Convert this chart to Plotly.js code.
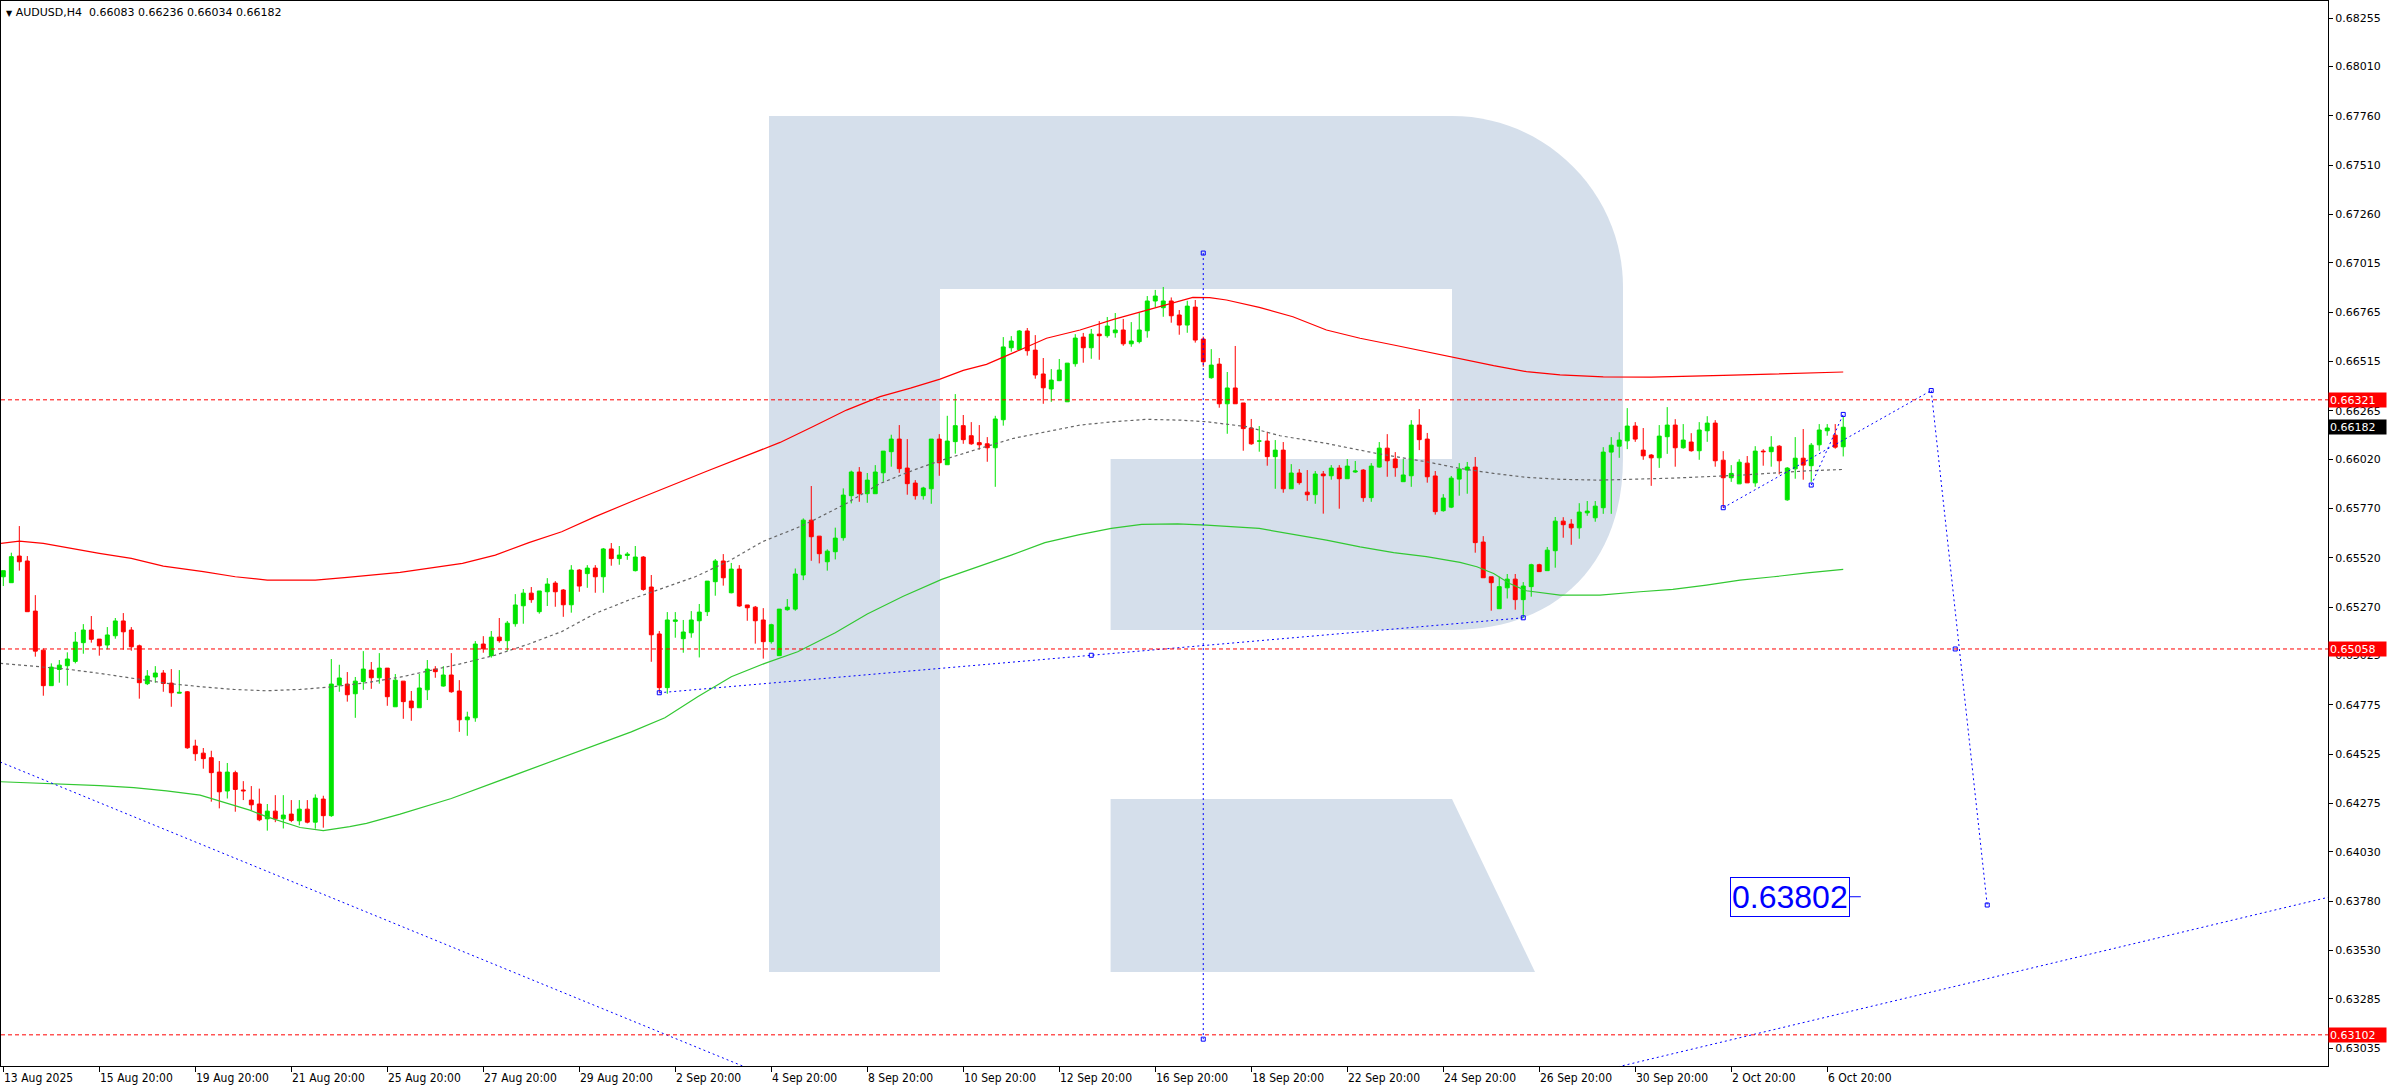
<!DOCTYPE html>
<html><head><meta charset="utf-8">
<script src="https://cdn.plot.ly/plotly-3.0.1.min.js"></script>
<style>html,body{margin:0;padding:0;background:#fff;overflow:hidden}#chart{width:2392px;height:1090px}</style>
</head><body><div id="chart"></div>
<script>
// ---------------- DATA ----------------
const symbolTitle = 'AUDUSD,H4';
const lastBarOHLC = [0.66083, 0.66236, 0.66034, 0.66182];

const open = [0.65424,0.65394,0.65529,0.65504,0.65250,0.65052,0.64872,0.64954,0.64973,0.64995,
0.65090,0.65154,0.65108,0.65078,0.65125,0.65200,0.65154,0.65074,0.64882,0.64916,
0.64936,0.64885,0.64834,0.64841,0.64566,0.64530,0.64507,0.64434,0.64338,0.64431,
0.64343,0.64292,0.64272,0.64197,0.64236,0.64197,0.64221,0.64187,0.64246,0.64180,
0.64297,0.64213,0.64875,0.64880,0.64831,0.64893,0.64951,0.64912,0.64961,0.64765,
0.64895,0.64794,0.64760,0.64851,0.64956,0.64870,0.64926,0.64845,0.64699,0.64709,
0.65083,0.65024,0.65118,0.65100,0.65186,0.65277,0.65341,0.65247,0.65348,0.65392,
0.65357,0.65282,0.65458,0.65440,0.65468,0.65424,0.65565,0.65516,0.65532,0.65455,
0.65524,0.65372,0.65134,0.64862,0.65198,0.65110,0.65140,0.65201,0.65247,0.65399,
0.65504,0.65343,0.65463,0.65281,0.65270,0.65205,0.65095,0.65024,0.65257,0.65260,
0.65433,0.65711,0.65630,0.65500,0.65551,0.65622,0.65835,0.65955,0.65845,0.65845,
0.65951,0.66058,0.66122,0.65975,0.65899,0.65835,0.65870,0.66122,0.65992,0.66109,
0.66190,0.66139,0.66104,0.66098,0.66078,0.66220,0.66585,0.66575,0.66670,0.66573,
0.66452,0.66376,0.66418,0.66311,0.66504,0.66639,0.66585,0.66654,0.66646,0.66661,
0.66675,0.66605,0.66616,0.66671,0.66822,0.66788,0.66822,0.66751,0.66700,0.66791,
0.66629,0.66433,0.66502,0.66301,0.66381,0.66305,0.66178,0.66112,0.66112,0.66033,
0.66066,0.65870,0.65950,0.65853,0.65840,0.65945,0.65936,0.65975,0.65921,0.65955,
0.65965,0.65825,0.65980,0.66076,0.66021,0.65906,0.65936,0.66193,0.66122,0.65935,
0.65759,0.65777,0.65919,0.65965,0.65980,0.65600,0.65424,0.65262,0.65368,0.65412,
0.65308,0.65374,0.65485,0.65455,0.65556,0.65706,0.65691,0.65672,0.65748,0.65723,
0.65774,0.66056,0.66086,0.66113,0.66188,0.66066,0.66041,0.66027,0.66134,0.66193,
0.66078,0.66107,0.66063,0.66164,0.66203,0.66015,0.65926,0.65895,0.66000,0.65900,
0.66061,0.66058,0.66086,0.65814,0.65971,0.66025,0.65987,0.66093,0.66164,0.66142,
0.66083];

const high = [0.65455,0.65546,0.65681,0.65529,0.65331,0.65061,0.64985,0.65002,0.65041,0.65144,
0.65184,0.65225,0.65108,0.65169,0.65215,0.65240,0.65169,0.65080,0.64951,0.64971,
0.64951,0.64956,0.64951,0.64845,0.64598,0.64556,0.64542,0.64490,0.64480,0.64441,
0.64388,0.64363,0.64350,0.64272,0.64317,0.64317,0.64292,0.64292,0.64292,0.64321,
0.64314,0.65007,0.64978,0.64941,0.64916,0.65047,0.64992,0.65037,0.64961,0.64931,
0.64895,0.64845,0.64931,0.65002,0.64971,0.64971,0.65037,0.64900,0.64740,0.65098,
0.65123,0.65149,0.65215,0.65200,0.65336,0.65362,0.65372,0.65352,0.65417,0.65402,
0.65362,0.65483,0.65463,0.65483,0.65483,0.65570,0.65595,0.65580,0.65549,0.65580,
0.65529,0.65433,0.65149,0.65245,0.65245,0.65205,0.65250,0.65286,0.65402,0.65514,
0.65539,0.65494,0.65483,0.65281,0.65276,0.65265,0.65186,0.65260,0.65311,0.65466,
0.65720,0.65884,0.65630,0.65563,0.65673,0.65872,0.65962,0.65980,0.65950,0.65990,
0.66061,0.66144,0.66193,0.66122,0.65914,0.65880,0.66122,0.66147,0.66240,0.66350,
0.66244,0.66208,0.66193,0.66132,0.66240,0.66639,0.66644,0.66675,0.66685,0.66649,
0.66533,0.66477,0.66528,0.66507,0.66654,0.66660,0.66680,0.66720,0.66741,0.66761,
0.66731,0.66715,0.66761,0.66847,0.66878,0.66893,0.66840,0.66776,0.66823,0.66827,
0.66641,0.66578,0.66533,0.66462,0.66594,0.66305,0.66224,0.66188,0.66159,0.66117,
0.66107,0.65995,0.65970,0.65965,0.65960,0.65960,0.65990,0.65990,0.66021,0.66011,
0.65970,0.66000,0.66107,0.66147,0.66056,0.66021,0.66218,0.66274,0.66153,0.65960,
0.65843,0.65935,0.66000,0.66006,0.66031,0.65630,0.65424,0.65424,0.65438,0.65438,
0.65397,0.65490,0.65490,0.65575,0.65727,0.65726,0.65716,0.65797,0.65808,0.65808,
0.66081,0.66132,0.66157,0.66279,0.66208,0.66178,0.66046,0.66193,0.66284,0.66223,
0.66198,0.66152,0.66208,0.66238,0.66218,0.66061,0.65990,0.66020,0.66036,0.66086,
0.66071,0.66137,0.66091,0.65980,0.66132,0.66173,0.66102,0.66198,0.66198,0.66198,
0.66236];

const low = [0.65377,0.65394,0.65455,0.65247,0.65019,0.64821,0.64872,0.64887,0.64872,0.64985,
0.65034,0.65090,0.65024,0.65056,0.65110,0.65054,0.65049,0.64806,0.64875,0.64887,
0.64841,0.64765,0.64833,0.64552,0.64491,0.64451,0.64284,0.64250,0.64300,0.64233,
0.64292,0.64241,0.64185,0.64137,0.64180,0.64148,0.64180,0.64164,0.64174,0.64147,
0.64152,0.64207,0.64841,0.64791,0.64709,0.64851,0.64856,0.64882,0.64770,0.64765,
0.64704,0.64694,0.64760,0.64799,0.64912,0.64867,0.64836,0.64638,0.64618,0.64689,
0.65039,0.65014,0.65090,0.65049,0.65171,0.65186,0.65292,0.65237,0.65276,0.65272,
0.65221,0.65242,0.65348,0.65368,0.65343,0.65343,0.65480,0.65485,0.65510,0.65451,
0.65353,0.64993,0.64836,0.64831,0.65115,0.65039,0.65115,0.65015,0.65225,0.65328,
0.65379,0.65340,0.65272,0.65201,0.65085,0.65009,0.65085,0.65024,0.65252,0.65252,
0.65407,0.65505,0.65492,0.65455,0.65512,0.65607,0.65796,0.65804,0.65799,0.65845,
0.65906,0.65982,0.65951,0.65840,0.65815,0.65815,0.65794,0.65936,0.65992,0.66048,
0.66098,0.66093,0.66068,0.66007,0.65880,0.66190,0.66565,0.66573,0.66545,0.66428,
0.66301,0.66311,0.66416,0.66311,0.66489,0.66509,0.66529,0.66524,0.66636,0.66636,
0.66595,0.66590,0.66607,0.66636,0.66790,0.66742,0.66712,0.66651,0.66661,0.66611,
0.66489,0.66428,0.66281,0.66149,0.66301,0.66063,0.66093,0.66058,0.65987,0.65870,
0.65850,0.65870,0.65891,0.65809,0.65794,0.65744,0.65916,0.65769,0.65921,0.65951,
0.65804,0.65804,0.65977,0.65931,0.65931,0.65906,0.65880,0.66066,0.65901,0.65739,
0.65754,0.65772,0.65835,0.65845,0.65546,0.65419,0.65252,0.65262,0.65314,0.65257,
0.65216,0.65323,0.65450,0.65455,0.65470,0.65622,0.65586,0.65617,0.65733,0.65703,
0.65743,0.65743,0.66027,0.66071,0.66108,0.66017,0.65885,0.65976,0.66047,0.65982,
0.66073,0.66058,0.66017,0.66108,0.65982,0.65774,0.65905,0.65895,0.65900,0.65880,
0.65987,0.65982,0.65943,0.65809,0.65921,0.65916,0.65905,0.66063,0.66139,0.66073,
0.66034];

const close = [0.65455,0.65526,0.65500,0.65247,0.65047,0.64872,0.64966,0.64976,0.65007,0.65093,
0.65154,0.65107,0.65074,0.65129,0.65200,0.65145,0.65069,0.64887,0.64921,0.64936,
0.64883,0.64836,0.64838,0.64557,0.64527,0.64502,0.64431,0.64334,0.64434,0.64346,
0.64339,0.64268,0.64192,0.64236,0.64197,0.64216,0.64189,0.64246,0.64180,0.64302,
0.64213,0.64880,0.64911,0.64826,0.64895,0.64956,0.64912,0.64961,0.64816,0.64900,
0.64791,0.64760,0.64860,0.64956,0.64943,0.64926,0.64841,0.64699,0.64713,0.65083,
0.65059,0.65118,0.65100,0.65189,0.65281,0.65341,0.65308,0.65352,0.65387,0.65348,
0.65282,0.65458,0.65377,0.65468,0.65424,0.65565,0.65516,0.65534,0.65539,0.65524,
0.65360,0.65130,0.64862,0.65205,0.65205,0.65144,0.65205,0.65245,0.65402,0.65504,
0.65419,0.65463,0.65276,0.65267,0.65201,0.65095,0.65181,0.65260,0.65270,0.65438,
0.65711,0.65627,0.65541,0.65554,0.65620,0.65838,0.65955,0.65845,0.65914,0.65955,
0.66061,0.66122,0.65972,0.65896,0.65835,0.65874,0.66122,0.66002,0.66112,0.66190,
0.66119,0.66098,0.66093,0.66078,0.66224,0.66589,0.66619,0.66670,0.66570,0.66447,
0.66382,0.66421,0.66472,0.66507,0.66634,0.66585,0.66654,0.66646,0.66695,0.66675,
0.66605,0.66619,0.66675,0.66822,0.66847,0.66822,0.66747,0.66700,0.66796,0.66624,
0.66514,0.66497,0.66301,0.66381,0.66301,0.66175,0.66098,0.66112,0.66033,0.66066,
0.65870,0.65950,0.65901,0.65840,0.65945,0.65936,0.65975,0.65921,0.65985,0.65960,
0.65825,0.65985,0.66076,0.66012,0.65977,0.65940,0.66193,0.66119,0.65931,0.65754,
0.65823,0.65924,0.65970,0.65980,0.65597,0.65419,0.65394,0.65374,0.65412,0.65308,
0.65377,0.65485,0.65450,0.65559,0.65706,0.65688,0.65672,0.65752,0.65757,0.65782,
0.66056,0.66091,0.66117,0.66188,0.66122,0.66037,0.66027,0.66137,0.66193,0.66078,
0.66117,0.66063,0.66168,0.66203,0.66012,0.65926,0.65948,0.66005,0.65900,0.66061,
0.66058,0.66081,0.66012,0.65975,0.66025,0.65990,0.66091,0.66168,0.66178,0.66081,
0.66182];

// Bar positions (H4 bar number, weekends skipped)
const barIndex = open.map((_, i) => i);

// Time-axis labels (every 12 bars)
const xTickIdx  = [0,12,24,36,48,60,72,84,96,108,120,132,144,156,168,180,192,204,216,228];
const xTickText = ['13 Aug 2025','15 Aug 20:00','19 Aug 20:00','21 Aug 20:00','25 Aug 20:00','27 Aug 20:00',
  '29 Aug 20:00','2 Sep 20:00','4 Sep 20:00','8 Sep 20:00','10 Sep 20:00','12 Sep 20:00','16 Sep 20:00',
  '18 Sep 20:00','22 Sep 20:00','24 Sep 20:00','26 Sep 20:00','30 Sep 20:00','2 Oct 20:00','6 Oct 20:00'];

// Price-axis labels
const yTickVals = [0.68255,0.68010,0.67760,0.67510,0.67260,0.67015,0.66765,0.66515,0.66265,0.66020,0.65770,
  0.65520,0.65270,0.65025,0.64775,0.64525,0.64275,0.64030,0.63780,0.63530,0.63285,0.63035];

// Moving averages (sampled along the curve)
const maRedIdx = [-0.4,2,5,8,12,16,20,25,29,33,39,43,49.6,57.4,61.5,65.7,69.8,74,79,88,97.1,101.3,105.4,109.6,113.4,117.1,120,122.9,125.4,128,130.4,134.6,138.8,142.9,146.8,148.7,150.8,152.9,157,161.2,165.4,169.6,173.8,177.9,182.1,186.3,190.4,194.6,200,206,215,222,230];
const maRedVal = [0.65593,0.65605,0.65593,0.65571,0.65543,0.65517,0.65478,0.65450,0.65424,0.65407,0.65407,0.65421,0.65446,0.65492,0.65534,0.65597,0.65652,0.65729,0.65813,0.65960,0.66105,0.66187,0.66269,0.66337,0.66380,0.66426,0.66470,0.66501,0.66543,0.66590,0.66633,0.66675,0.66729,0.66776,0.66822,0.66840,0.66839,0.66827,0.66790,0.66742,0.66675,0.66633,0.66599,0.66565,0.66531,0.66494,0.66464,0.66447,0.66437,0.66436,0.66445,0.66452,0.66462];

const maGreenIdx = [-0.4,5.8,12.1,16.3,20.4,24.6,26.7,28.8,30.8,32.9,37.1,40,43.3,45.4,49.6,56,62,69.3,74.3,78.5,82.7,86.8,91,95.2,99.3,104,108,112.5,117.3,121.9,126,130.2,134.4,138.5,142.3,146.8,150.4,157,165.4,169.6,173.8,177.9,182.1,184.2,186.3,188.3,190.4,194.6,199.6,204.6,208.7,212.9,217.1,221.3,225.5,230];
const maGreenVal = [0.64385,0.64376,0.64365,0.64355,0.64339,0.64317,0.64292,0.64267,0.64241,0.64208,0.64153,0.64137,0.64157,0.64174,0.64221,0.64300,0.64390,0.64498,0.64576,0.64638,0.64709,0.64816,0.64917,0.64985,0.65044,0.65140,0.65235,0.65325,0.65411,0.65475,0.65534,0.65597,0.65636,0.65669,0.65690,0.65692,0.65686,0.65669,0.65610,0.65576,0.65546,0.65526,0.65497,0.65475,0.65441,0.65390,0.65353,0.65331,0.65331,0.65348,0.65360,0.65382,0.65407,0.65424,0.65444,0.65461];

const maGrayIdx = [-0.4,4.6,7.9,12.1,16.3,20.4,24.6,28.8,32.9,37.1,41.3,45.4,49.6,57.4,61.5,65.7,69.8,74,78.2,82.4,86.5,90.7,94.9,99.1,101.3,105.4,109.6,113.8,117.1,122.1,126.3,130.4,134.6,138.8,142.9,147.1,150.4,155.4,159.6,165.4,171.7,177.9,182.1,186.3,190.4,194.6,199.6,208.7,217.1,225.5,230];
const maGrayVal = [0.64985,0.64968,0.64956,0.64934,0.64909,0.64884,0.64867,0.64853,0.64846,0.64853,0.64867,0.64887,0.64915,0.64985,0.65027,0.65083,0.65146,0.65238,0.65306,0.65365,0.65424,0.65504,0.65602,0.65670,0.65711,0.65796,0.65897,0.65965,0.66012,0.66075,0.66126,0.66159,0.66193,0.66210,0.66222,0.66218,0.66210,0.66185,0.66139,0.66100,0.66049,0.66007,0.65973,0.65948,0.65928,0.65918,0.65914,0.65924,0.65939,0.65961,0.65968];

// Drawn objects: trend lines (bar index, price)
const trendDownIdx = [-0.4, 95];      const trendDownVal = [0.64485, 0.62901];
const trendLowIdx  = [82, 190];       const trendLowVal  = [0.64836, 0.65216];
const vLineIdx     = [150, 150];      const vLineVal     = [0.67065, 0.63080];
const fcUpIdx      = [215, 241];      const fcUpVal      = [0.65774, 0.66368];
const fcDownIdx    = [241, 248];      const fcDownVal    = [0.66368, 0.63760];
const shortUpIdx   = [226, 230];      const shortUpVal   = [0.65889, 0.66247];
const trendBotIdx  = [200, 290.6];    const trendBotVal  = [0.62922, 0.63799];
const anchorIdx = [82, 136, 190, 215, 241, 248, 226, 230, 150, 150, 244];
const anchorVal = [0.64836, 0.65026, 0.65216, 0.65774, 0.66368, 0.63760, 0.65889, 0.66247, 0.67065, 0.63080, 0.65058];

// Horizontal levels
const levelVals  = [0.66321, 0.65058, 0.63102];
const targetText = '0.63802';
const targetVal  = 0.63802;

// ---------------- RENDER ----------------
const FONT = 'DejaVu Sans, Verdana, sans-serif';
const FONT_C = 'DejaVu Sans Condensed, Liberation Sans Narrow, DejaVu Sans, sans-serif';
const BLUE = '#0000ff';
const W = 2327, H = 1065, ML = 1, MT = 1;
const px = x => ((x - ML) / W).toFixed(5);
const py = y => ((MT + H - y) / H).toFixed(5);
const LOGO = 'rgb(213,223,235)';

function rectShape(x0, y0, x1, y1) {
  return {type:'rect', xref:'paper', yref:'paper', x0:px(x0), x1:px(x1), y0:py(y1), y1:py(y0),
          fillcolor:LOGO, line:{width:0}, layer:'below'};
}
function pathShape(pts) {
  return {type:'path', xref:'paper', yref:'paper', path:pts, fillcolor:LOGO, line:{width:0}, layer:'below'};
}
const P = (x, y) => px(x) + ',' + py(y);

const shapes = [
  rectShape(769, 116, 940, 972),
  rectShape(939, 116, 1453, 289),
  pathShape('M' + P(1452,116) + ' C' + P(1546,116) + ' ' + P(1623,193) + ' ' + P(1623,287) +
            ' L' + P(1623,459) + ' C' + P(1623,560) + ' ' + P(1560,630) + ' ' + P(1452,630) + ' Z'),
  rectShape(1110.6, 459, 1453, 630),
  pathShape('M' + P(1110.6,799) + ' L' + P(1452,799) + ' L' + P(1535,972) + ' L' + P(1110.6,972) + ' Z')
];
levelVals.forEach(v => shapes.push({type:'line', xref:'paper', yref:'y', x0:0, x1:1, y0:v, y1:v,
  line:{color:'#ff0000', width:1, dash:'4px,3px'}, layer:'above'}));

const lineTrace = (x, y, color, dash, width) => ({type:'scatter', mode:'lines', x, y, hoverinfo:'skip',
  line:{color, width: width || 1, dash: dash || 'solid'}, showlegend:false, cliponaxis:true});

const traces = [
  {type:'candlestick', x:barIndex, open, high, low, close, hoverinfo:'skip', whiskerwidth:0,
   increasing:{line:{color:'#00e400', width:1}, fillcolor:'#00e400'},
   decreasing:{line:{color:'#ff0000', width:1}, fillcolor:'#ff0000'}, showlegend:false},
  lineTrace(maRedIdx, maRedVal, '#ff0000', 'solid', 1.2),
  lineTrace(maGreenIdx, maGreenVal, '#32c832', 'solid', 1.2),
  lineTrace(maGrayIdx, maGrayVal, '#666666', '3px,3px', 1.2),
  lineTrace(trendDownIdx, trendDownVal, BLUE, '2px,3px'),
  lineTrace(trendLowIdx, trendLowVal, BLUE, '2px,3px'),
  lineTrace(vLineIdx, vLineVal, BLUE, '2px,3px'),
  lineTrace(fcUpIdx, fcUpVal, BLUE, '2px,3px'),
  lineTrace(fcDownIdx, fcDownVal, BLUE, '2px,3px'),
  lineTrace(shortUpIdx, shortUpVal, BLUE, '2px,3px'),
  lineTrace(trendBotIdx, trendBotVal, BLUE, '2px,3px'),
  lineTrace([230.8, 232.2], [targetVal, targetVal], BLUE, 'solid'),
  {type:'scatter', mode:'markers', x:anchorIdx, y:anchorVal, hoverinfo:'skip', showlegend:false,
   marker:{symbol:'square-open', size:4, color:BLUE, line:{width:1, color:BLUE}}}
];

const annotations = [];
xTickIdx.forEach((xi, k) => annotations.push({x:xi, xref:'x', y:0, yref:'paper', yanchor:'top', xanchor:'left',
  xshift:-1, yshift:-3, text:xTickText[k], showarrow:false, font:{family:FONT_C, size:12, color:'#000'}}));

annotations.push({x:0, xref:'paper', y:1, yref:'paper', xanchor:'left', yanchor:'top', xshift:3, yshift:-3,
  showarrow:false, align:'left', font:{family:FONT, size:11, color:'#000'},
  text:'<span style="font-size:8px">\u25BC</span> ' + symbolTitle + '\u00a0\u00a0' + lastBarOHLC.map(v => v.toFixed(5)).join(' ')});

const tag = (v, bg) => ({x:1, xref:'paper', y:v, yref:'y', xanchor:'left', yanchor:'middle', xshift:0,
  text:v.toFixed(5), showarrow:false, bgcolor:bg, borderpad:1, width:55, height:12, align:'left',
  font:{family:FONT, size:11, color:'#fff'}});
levelVals.forEach(v => annotations.push(tag(v, '#ff0000')));
annotations.push(tag(close[close.length - 1], '#000000'));

annotations.push({x:230.8, xref:'x', y:targetVal, yref:'y', xanchor:'right', yanchor:'middle', text:targetText,
  showarrow:false, font:{family:'Liberation Sans, Arial, sans-serif', size:32, color:BLUE},
  bordercolor:BLUE, borderwidth:1, borderpad:1, bgcolor:'rgba(255,255,255,0)'});

const layout = {
  width:2392, height:1090, margin:{l:ML, r:64, t:MT, b:24}, paper_bgcolor:'#fff', plot_bgcolor:'#fff',
  showlegend:false, hovermode:false, dragmode:false,
  xaxis:{range:[-0.29, 290.6], rangeslider:{visible:false}, showgrid:false, zeroline:false,
    showline:true, mirror:true, linecolor:'#000', linewidth:1, ticks:'outside', ticklen:5, tickcolor:'#000',
    tickmode:'array', tickvals:xTickIdx, ticktext:xTickIdx.map(() => ''), showticklabels:false, fixedrange:true},
  yaxis:{range:[0.62944, 0.683427], side:'right', showgrid:false, zeroline:false,
    showline:true, mirror:true, linecolor:'#000', linewidth:1, ticks:'outside', ticklen:4, tickcolor:'#000',
    tickmode:'array', tickvals:yTickVals, ticktext:yTickVals.map(v => v.toFixed(5)),
    tickfont:{family:FONT, size:11, color:'#000'}, fixedrange:true},
  shapes, annotations
};

Plotly.newPlot('chart', traces, layout, {staticPlot:true, displayModeBar:false});
</script></body></html>
